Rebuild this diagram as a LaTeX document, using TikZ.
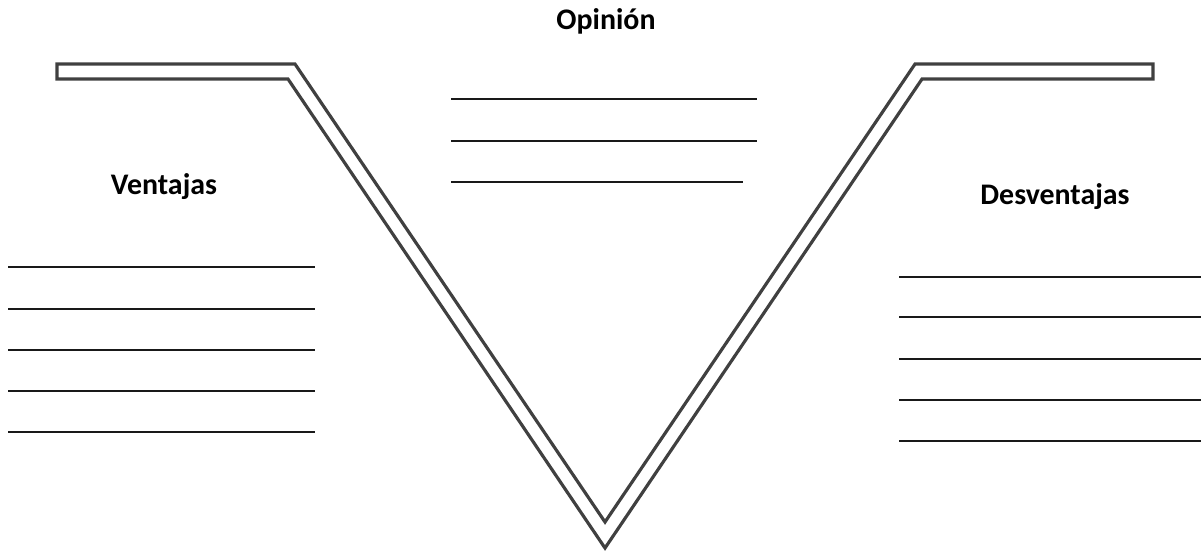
\documentclass[tikz,border=0pt]{standalone}
\usepackage{fontspec}
\setmainfont{Carlito}

\tikzset{
titulo/.style={font=\fontsize{8.5}{10}\selectfont\bfseries, anchor=base, inner sep=0pt},
renglon/.style={line width=0.75pt, black!90},
borde/.style={line width=0.9pt, black!75, line join=miter}
}

\begin{document}
\begin{tikzpicture}[x=0.01cm, y=-0.01cm]

\useasboundingbox (0,0) rectangle (1201,550);

% Forma en V
\draw[borde]
(57,64) -- (295,64) -- (605,522) -- (915,64) -- (1153,64)
-- (1153,79) -- (922,79) -- (605,548) -- (288,79) -- (57,79)
-- cycle;

% Opinion
\node[titulo] (opinion) at (606,29) {Opinión};

\foreach \y/\fin in {99/757,141/757,182/743}
{
\draw[renglon] (451,\y) -- (\fin,\y);
}

% Ventajas
\node[titulo] (ventajas) at (164,194) {Ventajas};

\foreach \y in {267,309,350,391,432}
{
\draw[renglon] (8,\y) -- (315,\y);
}

% Desventajas
\node[titulo] (desventajas) at (1055,204) {Desventajas};

\foreach \y in {277,317,359,400,441}
{
\draw[renglon] (899,\y) -- (1201,\y);
}

\end{tikzpicture}
\end{document}
